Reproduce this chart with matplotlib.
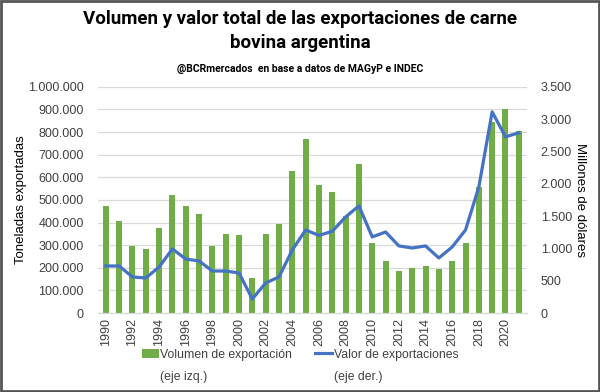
import matplotlib
matplotlib.use("Agg")
import matplotlib.pyplot as plt
from matplotlib.patches import Rectangle
from matplotlib.ticker import FuncFormatter, MultipleLocator

years = list(range(1990, 2022))
volumen = [473000, 408000, 296000, 282000, 375000, 520000, 475000, 437000,
           296000, 348000, 343000, 153000, 350000, 392000, 630000, 770000,
           566000, 535000, 429000, 659000, 310000, 230000, 186000, 199000,
           208000, 195000, 230000, 310000, 558000, 845000, 903000, 805000]
valor = [728, 728, 558, 542, 712, 991, 836, 805, 650, 650, 619, 217, 465, 558,
         976, 1285, 1200, 1265, 1487, 1657, 1177, 1254, 1038, 1006, 1038, 852,
         1022, 1285, 1951, 3113, 2726, 2788]
xtick_years = list(range(1990, 2021, 2))

title = "Volumen y valor total de las exportaciones de carne\nbovina argentina"
subtitle = "@BCRmercados  en base a datos de MAGyP e INDEC"
leg_labels = ["Volumen de exportación", "Valor de exportaciones"]
leg_sub = ["(eje izq.)", "(eje der.)"]

green = "#70AD47"
blue = "#4472C4"
txt = "#404040"

plt.rcParams['font.family'] = ['Liberation Sans', 'DejaVu Sans']

fig = plt.figure(figsize=(6, 3.92), dpi=100)
ax = fig.add_axes([0.163, 0.2015, 0.715, 0.577])
ax2 = ax.twinx()

bars = ax.bar(years, volumen, width=0.45, color=green, zorder=2)
line, = ax2.plot(years, valor, color=blue, lw=2.3, zorder=3)

ax.set_ylim(0, 1000000)
ax2.set_ylim(0, 3500)
ax.set_xlim(1989.4, 2021.6)
ax.yaxis.set_major_locator(MultipleLocator(100000))
ax2.yaxis.set_major_locator(MultipleLocator(500))
fmt = FuncFormatter(lambda v, p: f"{int(v):,}".replace(",", "."))
ax.yaxis.set_major_formatter(fmt)
ax2.yaxis.set_major_formatter(fmt)
ax.set_xticks(xtick_years)
ax.set_xticklabels([str(y) for y in xtick_years], rotation=90, fontsize=8.5, color=txt)
ax.grid(axis='y', color='#d9d9d9', lw=0.9, zorder=0)
ax.set_axisbelow(True)
for a in (ax, ax2):
    for s in ['top', 'left', 'right']:
        a.spines[s].set_visible(False)
    a.spines['bottom'].set_color('#d9d9d9')
    a.tick_params(length=0, labelsize=9, colors=txt)
ax.tick_params(axis='y', pad=10)
ax2.tick_params(axis='y', pad=10)

ax.set_ylabel("Toneladas exportadas", fontsize=9.5, color='black', labelpad=1)
ax2.set_ylabel("Millones de dólares", fontsize=9.5, color='black', rotation=270,
               labelpad=10)

fig.text(0.5, 0.975, title, ha='center', va='top', fontsize=13.5, fontweight='bold',
         family=['Roboto', 'DejaVu Sans'], linespacing=1.45)
fig.text(0.5, 0.825, subtitle, ha='center', va='center', fontsize=7.5, fontweight='bold',
         family=['Roboto', 'DejaVu Sans'])

leg = fig.legend([bars, line], leg_labels, loc='center', bbox_to_anchor=(0.5, 0.095),
                 ncol=2, frameon=False, fontsize=8.8, handlelength=1.4, columnspacing=1.9,
                 handletextpad=0.1, labelcolor=txt)

fig.canvas.draw()
inv = fig.transFigure.inverted()
for t, s in zip(leg.get_texts(), leg_sub):
    bb = t.get_window_extent()
    x0, y0 = inv.transform((bb.x0, bb.y0))
    fig.text(x0, y0 - 0.026, s, ha='left', va='top', fontsize=8.8, color=txt)

fig.add_artist(Rectangle((0.002, 0.003), 0.996, 0.994, transform=fig.transFigure,
                         fill=False, edgecolor='#555555', lw=2))
fig.savefig("out.png", dpi=100)
